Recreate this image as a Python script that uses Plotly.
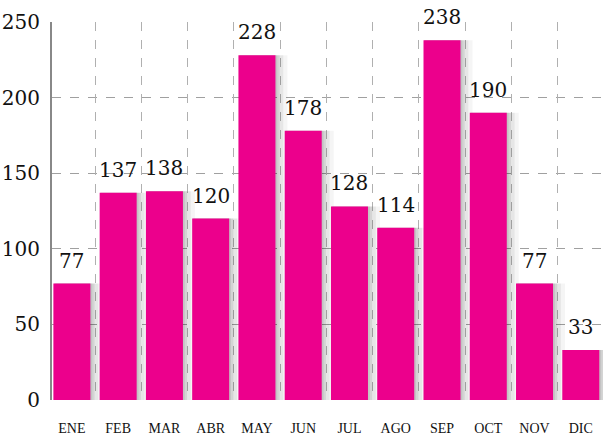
import plotly.graph_objects as go

months = ["ENE", "FEB", "MAR", "ABR", "MAY", "JUN", "JUL", "AGO", "SEP", "OCT", "NOV", "DIC"]
values = [77, 137, 138, 120, 228, 178, 128, 114, 238, 190, 77, 33]
y_ticks = [0, 50, 100, 150, 200, 250]

xs = list(range(len(months)))
fig = go.Figure()

# soft drop shadow layers
for w, off, a in [(1.02, -0.36, 0.04), (0.94, -0.37, 0.06), (0.87, -0.38, 0.08), (0.83, -0.39, 0.08)]:
    fig.add_trace(go.Bar(x=xs, y=values, width=w, offset=off,
                         marker=dict(color=f"rgba(0,0,0,{a})", line=dict(width=0)),
                         hoverinfo="skip", showlegend=False))

fig.add_trace(go.Bar(x=xs, y=values, width=0.8, offset=-0.4,
                     marker=dict(color="#EC008C", line=dict(width=0)),
                     showlegend=False))

for x, v in zip(xs, values):
    fig.add_annotation(x=x, y=v, text=str(v), showarrow=False, yanchor="middle",
                       yshift=23, font=dict(family="DejaVu Serif", size=20, color="#111"))

# invisible trace for the boundary gridline axis
fig.add_trace(go.Scatter(x=[-0.5, 11.5], y=[0, 0], xaxis="x2", mode="markers",
                         marker=dict(opacity=0), hoverinfo="skip", showlegend=False))

fig.update_layout(
    width=603, height=437,
    margin=dict(l=52, r=0, t=22, b=37),
    paper_bgcolor="white", plot_bgcolor="white",
    barmode="overlay",
    xaxis=dict(range=[-0.43, 11.48], tickvals=xs, ticktext=months, showgrid=False,
               zeroline=False, ticks="", ticklabelstandoff=18, automargin=False,
               tickfont=dict(family="Liberation Serif", size=14, color="#111")),
    xaxis2=dict(range=[-0.43, 11.48], overlaying="x", tickvals=[i + 0.5 for i in range(-1, 12)],
                showticklabels=False, showgrid=True, griddash="dash", gridcolor="#b0b0b0",
                gridwidth=1.2, zeroline=False, layer="below traces", automargin=False),
    yaxis=dict(range=[0, 250], tickvals=y_ticks, showgrid=True, griddash="dash",
               gridcolor="#a0a0a0", gridwidth=1.2, zeroline=False, automargin=False,
               showline=True, linecolor="#888", linewidth=2,
               ticks="outside", ticklen=6, tickcolor="rgba(0,0,0,0)",
               tickfont=dict(family="DejaVu Serif", size=20, color="#111")),
)
fig.write_html("out.html", config={"displayModeBar": False},
               post_script="document.body.style.margin='0px';")
